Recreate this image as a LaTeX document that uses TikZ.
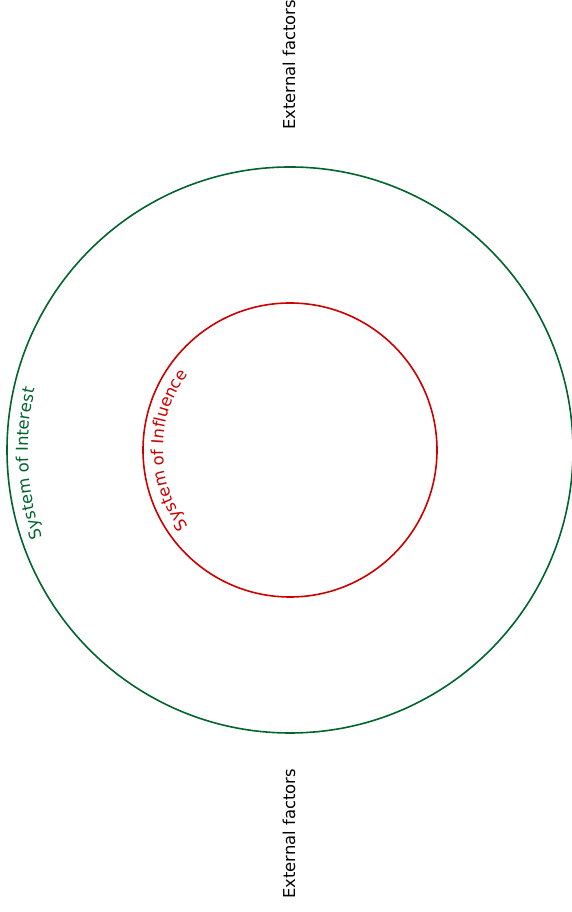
\documentclass[tikz,border=0pt]{standalone}
\usepackage{fontspec}
\setmainfont{DejaVu Sans}
\usetikzlibrary{decorations.text}
\definecolor{soigreen}{RGB}{0,100,45}
\definecolor{soired}{RGB}{204,0,0}
\newcommand{\lblfont}{\fontsize{16.4}{19}\selectfont}
\tikzset{
  ring/.style={circle, draw, line width=1.6pt, inner sep=0pt, outer sep=0pt},
  extlabel/.style={font=\lblfont, rotate=90, inner sep=0pt, text=black},
}
\begin{document}
\begin{tikzpicture}[x=1pt,y=1pt]
\useasboundingbox (0,0) rectangle (572,912);
\coordinate (C) at (290,462);
\node[ring, draw=soigreen, minimum size=566pt] (outer) at (C) {};
\node[ring, draw=soired, minimum size=294pt] (inner) at (C) {};
\node[extlabel] (exttop) at (289,847) {External factors};
\node[extlabel] (extbot) at (289,78) {External factors};
\path[decorate, decoration={text along path, text align=center,
  text={|\lblfont\color{soigreen}|System of Interest}}]
  (C) ++(223:262) arc[start angle=223, end angle=143, radius=262];
\path[decorate, decoration={text along path, text align=center,
  text={|\lblfont\color{soired}|System of Influence}}]
  (C) ++(240:127) arc[start angle=240, end angle=120, radius=127];
\end{tikzpicture}
\end{document}
